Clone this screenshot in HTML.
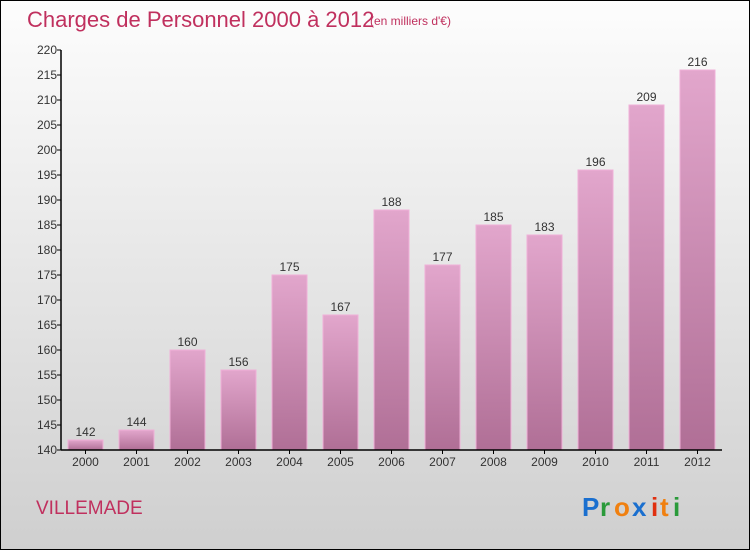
<!DOCTYPE html>
<html><head><meta charset="utf-8"><style>
html,body{margin:0;padding:0}
body{width:750px;height:550px;overflow:hidden;font-family:"Liberation Sans",sans-serif}
#wrap{position:relative;width:748px;height:548px;border:1px solid #000;background:linear-gradient(#fdfdfd,#cfcfcf)}
</style></head><body>
<div id="wrap">
<svg width="748" height="548" viewBox="1 1 748 548" id="chart" font-family="Liberation Sans, sans-serif">
<defs>
<linearGradient id="bg" x1="0" y1="0" x2="0" y2="1"><stop offset="0" stop-color="#e2a6cc"/><stop offset="1" stop-color="#b06f96"/></linearGradient>
</defs>
<text x="27" y="27" font-size="22" fill="#c0305e">Charges de Personnel 2000 à 2012</text>
<text x="370" y="25" font-size="12" fill="#c0305e">(en milliers d'€)</text>
<g id="plot"></g>
<text x="36" y="514" font-size="19" fill="#c0305e">VILLEMADE</text>
<g font-size="26" font-weight="bold">
<text x="582" y="516" fill="#1a6fcf">P</text><text x="600" y="516" fill="#2a9a3a">r</text><text x="614" y="516" fill="#f08010">o</text><text x="632" y="516" fill="#1a6fcf">x</text><text x="651" y="516" fill="#e03010">i</text><text x="660" y="516" fill="#f08010">t</text><text x="673" y="516" fill="#2a9a3a">i</text>
</g>
</svg>
</div>
<script>
const categories=["2000","2001","2002","2003","2004","2005","2006","2007","2008","2009","2010","2011","2012"];
const values=[142,144,160,156,175,167,188,177,185,183,196,209,216];
const yTicks=[140,145,150,155,160,165,170,175,180,185,190,195,200,205,210,215,220];
const NS="http://www.w3.org/2000/svg";
const g=document.getElementById('plot');
const yMin=140,yMax=220,y0=450,y1=50,axX=61;
function y(v){return y0-(v-yMin)/(yMax-yMin)*(y0-y1);}
function xc(i){return 85.5+51*i;}
function mk(t,a){const e=document.createElementNS(NS,t);for(const k in a)e.setAttribute(k,a[k]);g.appendChild(e);return e;}
values.forEach((v,i)=>{
 const r=mk('rect',{x:xc(i)-17.5,y:y(v),width:35,height:y0-y(v),fill:'url(#bg)',stroke:'#f0b0d8','stroke-width':1});
 
 
 const t=mk('text',{x:xc(i),y:y(v)-4,'font-size':12,'text-anchor':'middle',fill:'#333'});
 t.textContent=v;
 
 
 const c=mk('text',{x:xc(i),y:466,'font-size':12,'text-anchor':'middle',fill:'#333'});
 c.textContent=categories[i];
 
 
 const tk=mk('line',{x1:xc(i),x2:xc(i),y1:450,y2:454,stroke:'#000'});
 
 
});
yTicks.forEach(v=>{
 const l=mk('line',{x1:axX-4,x2:axX,y1:y(v),y2:y(v),stroke:'#000'});
 
 
 const t=mk('text',{x:axX-4,y:y(v)+4,'font-size':12,'text-anchor':'end',fill:'#333'});
 t.textContent=v;
 
 
});
const ya=mk('line',{x1:axX,x2:axX,y1:y1,y2:y0,stroke:'#000','stroke-width':1.5});


const xa=mk('line',{x1:axX,x2:722,y1:y0,y2:y0,stroke:'#000','stroke-width':1.5});


</script>
</body></html>
